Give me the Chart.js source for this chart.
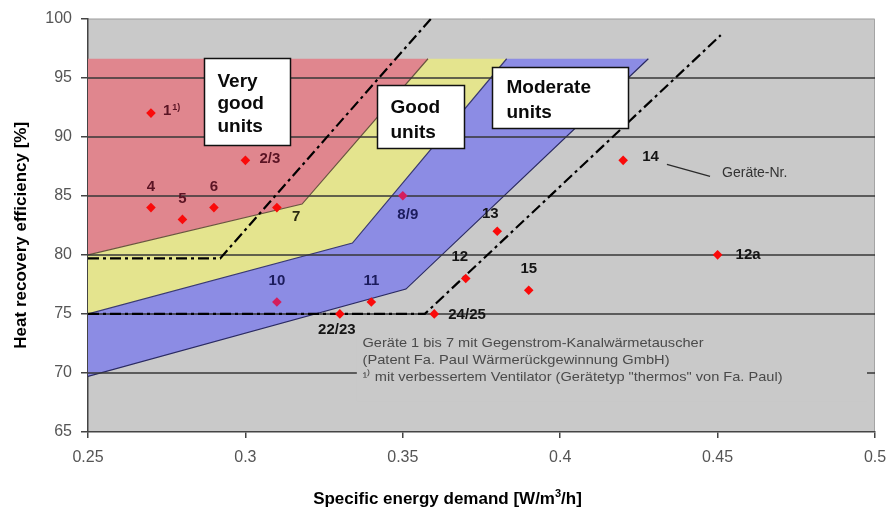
<!DOCTYPE html>
<html>
<head>
<meta charset="utf-8">
<script src="https://cdn.jsdelivr.net/npm/chart.js@4.4.1/dist/chart.umd.min.js"></script>
<style>
  html, body { margin: 0; padding: 0; background: #fff; }
  #wrap { width: 887px; height: 510px; }
</style>
</head>
<body>
<div id="wrap"><canvas id="chart" width="887" height="510"></canvas></div>
<script>
// --- Data ---
const xMin = 0.25, xMax = 0.5, xStep = 0.05;
const yMin = 65, yMax = 100, yStep = 5;

const unitNames      = ["1", "4", "5", "6", "2/3", "7", "8/9", "10", "11", "22/23", "12", "13", "24/25", "15", "14", "12a"];
const unitDemand     = [0.27, 0.27, 0.28, 0.29, 0.30, 0.31, 0.35, 0.31, 0.34, 0.33, 0.37, 0.38, 0.36, 0.39, 0.42, 0.45];
const unitEfficiency = [92, 84, 83, 84, 88, 84, 85, 76, 76, 75, 78, 82, 75, 77, 88, 80];

// zones [demand, efficiency]
const veryGoodZone = [[0.25, 96.6], [0.358, 96.6], [0.318, 84.3], [0.25, 80]];
const goodZone     = [[0.25, 80], [0.318, 84.3], [0.358, 96.6], [0.383, 96.6], [0.334, 81], [0.25, 75]];
const moderateZone = [[0.25, 75], [0.334, 81], [0.383, 96.6], [0.428, 96.6], [0.351, 77.1], [0.25, 69.7]];

const veryGoodEdge = [[0.25, 80], [0.318, 84.3], [0.358, 96.6]];
const goodEdge     = [[0.25, 75], [0.334, 81], [0.383, 96.6]];
const moderateEdge = [[0.25, 69.7], [0.351, 77.1], [0.428, 96.6]];

const limitLineA = [[0.25, 79.7], [0.292, 79.7], [0.359, 100]];
const limitLineB = [[0.25, 75], [0.357, 75], [0.451, 98.6]];

const footnoteLines = [
  "Geräte 1 bis 7 mit Gegenstrom-Kanalwärmetauscher",
  "(Patent Fa. Paul Wärmerückgewinnung GmbH)",
  "¹⁾ mit verbessertem Ventilator (Gerätetyp \"thermos\" von Fa. Paul)"
];

// --- Styles ---
const FONT = "'Liberation Sans', Arial, sans-serif";
const plotGray = "#c9c9c9";
const gridColor = "#363636";
const pts = (arr, close) => {
  const p = arr.map(([x, y]) => ({ x, y }));
  if (close) p.push({ ...p[0] });
  return p;
};

const labelPlace = {
  "1":     { dx: 12, dy: -2, align: "left",   color: "#5a1424" },
  "4":     { dx: 0, dy: -21, align: "center", color: "#5a1424" },
  "5":     { dx: 0, dy: -21, align: "center", color: "#5a1424" },
  "6":     { dx: 0, dy: -21, align: "center", color: "#5a1424" },
  "2/3":   { dx: 14, dy: -1, align: "left",   color: "#5a1424" },
  "7":     { dx: 15, dy: 9, align: "left",    color: "#2a2a10" },
  "8/9":   { dx: 5, dy: 19, align: "center",  color: "#1c1c5c" },
  "10":    { dx: 0, dy: -21, align: "center", color: "#1c1c5c" },
  "11":    { dx: 0, dy: -21, align: "center", color: "#1c1c5c" },
  "22/23": { dx: -3, dy: 16, align: "center", color: "#141414" },
  "12":    { dx: -6, dy: -22, align: "center", color: "#141414" },
  "13":    { dx: -7, dy: -17, align: "center", color: "#141414" },
  "24/25": { dx: 14, dy: 1, align: "left",    color: "#141414" },
  "15":    { dx: 0, dy: -21, align: "center", color: "#141414" },
  "14":    { dx: 19, dy: -3, align: "left",   color: "#141414" },
  "12a":   { dx: 18, dy: 0, align: "left",    color: "#141414" }
};
const pointColors = unitNames.map(n => (n === "8/9" || n === "10") ? "#d41e5c" : "#fa0a0a");

const boxes = [
  { lines: ["Very", "good", "units"], x: 0.2868, y: 96.7, w: 86, h: 87, padX: 13, base: 28, lineH: 22.5 },
  { lines: ["Good", "units"], x: 0.3418, y: 94.34, w: 87, h: 63, padX: 13, base: 27, lineH: 25 },
  { lines: ["Moderate", "units"], x: 0.3783, y: 95.86, w: 136, h: 61, padX: 14, base: 25, lineH: 25 }
];

// --- Plugins ---
const backdrop = {
  id: "backdrop",
  beforeDraw(chart) {
    const { ctx, chartArea: a } = chart;
    ctx.save();
    ctx.fillStyle = plotGray;
    ctx.fillRect(a.left, a.top, a.width, a.height);
    ctx.strokeStyle = "#a4a4a4";
    ctx.lineWidth = 1;
    ctx.beginPath();
    ctx.moveTo(a.left, a.top + 0.5);
    ctx.lineTo(a.right - 0.5, a.top + 0.5);
    ctx.lineTo(a.right - 0.5, a.bottom);
    ctx.stroke();
    ctx.restore();
  },
  beforeDatasetsDraw(chart) { chart.$gridDone = false; },
  beforeDatasetDraw(chart, args) {
    if (chart.$gridDone || args.meta.order > 3) return;
    chart.$gridDone = true;
    const { ctx, chartArea: a, scales: { x, y } } = chart;
    ctx.save();
    ctx.strokeStyle = gridColor;
    ctx.lineWidth = 1.6;
    y.ticks.forEach(t => {
      if (t.value === yMin || t.value === yMax) return;
      const py = Math.round(y.getPixelForValue(t.value));
      ctx.beginPath();
      ctx.moveTo(a.left, py);
      ctx.lineTo(a.right, py);
      ctx.stroke();
    });
    // backing of the footnote
    ctx.fillStyle = plotGray;
    const fx = x.getPixelForValue(0.3354);
    ctx.fillRect(fx, y.getPixelForValue(73.2), a.right - 8 - fx, y.getPixelForValue(67.6) - y.getPixelForValue(73.2));
    ctx.restore();
  },
  afterDatasetsDraw(chart) {
    const { ctx, scales: { x, y } } = chart;
    const meta = chart.getDatasetMeta(chart.data.datasets.length - 1);
    ctx.save();
    ctx.textBaseline = "middle";
    ctx.font = `bold 15px ${FONT}`;
    meta.data.forEach((el, i) => {
      const name = unitNames[i];
      const p = labelPlace[name];
      ctx.fillStyle = p.color;
      ctx.textAlign = p.align;
      ctx.fillText(name, el.x + p.dx, el.y + p.dy);
      if (name === "1") {
        const w = ctx.measureText("1").width;
        ctx.font = `bold 9px ${FONT}`;
        ctx.textAlign = "left";
        ctx.fillText("1)", el.x + p.dx + w + 1, el.y + p.dy - 4);
        ctx.font = `bold 15px ${FONT}`;
      }
    });

    // annotation "Geräte-Nr."
    ctx.strokeStyle = "#2a2a2a";
    ctx.lineWidth = 1.3;
    ctx.beginPath();
    ctx.moveTo(x.getPixelForValue(0.4339), y.getPixelForValue(87.66));
    ctx.lineTo(x.getPixelForValue(0.4476), y.getPixelForValue(86.64));
    ctx.stroke();
    ctx.font = `14px ${FONT}`;
    ctx.fillStyle = "#333";
    ctx.textAlign = "left";
    ctx.textBaseline = "alphabetic";
    ctx.fillText("Geräte-Nr.", x.getPixelForValue(0.4476) + 12, y.getPixelForValue(86.64) + 1);

    // text boxes
    boxes.forEach(b => {
      const bx = Math.round(x.getPixelForValue(b.x)) + 0.5;
      const by = Math.round(y.getPixelForValue(b.y)) + 0.5;
      ctx.fillStyle = "#fff";
      ctx.fillRect(bx, by, b.w, b.h);
      ctx.strokeStyle = "#111";
      ctx.lineWidth = 1.5;
      ctx.strokeRect(bx, by, b.w, b.h);
      ctx.fillStyle = "#0a0a0a";
      ctx.font = `bold 19px ${FONT}`;
      b.lines.forEach((t, k) => ctx.fillText(t, bx + b.padX, by + b.base + k * b.lineH));
    });

    // footnote
    ctx.fillStyle = "#4a4a4a";
    ctx.font = `13px ${FONT}`;
    const fx = x.getPixelForValue(0.3372);
    const targets = [341, 307, 420];
    footnoteLines.forEach((t, k) => {
      const w = ctx.measureText(t).width;
      const fy = y.getPixelForValue(72.2) + k * 17;
      ctx.save();
      ctx.translate(fx, fy);
      ctx.scale(targets[k] / w, 1);
      ctx.fillText(t, 0, 0);
      ctx.restore();
    });
    ctx.restore();
  },
  afterDraw(chart) {
    const { ctx, chartArea: a } = chart;
    ctx.save();
    ctx.fillStyle = "#000";
    ctx.textBaseline = "alphabetic";
    // x title with superscript
    const big = `bold 17px ${FONT}`, small = `bold 11px ${FONT}`;
    const parts = [["Specific energy demand [W/m", big, 0], ["3", small, -7], ["/h]", big, 0]];
    let total = 0;
    parts.forEach(([t, f]) => { ctx.font = f; total += ctx.measureText(t).width; });
    let cx = chart.width / 2 + 4 - total / 2;
    parts.forEach(([t, f, dy]) => {
      ctx.font = f;
      ctx.textAlign = "left";
      ctx.fillText(t, cx, 504 + dy);
      cx += ctx.measureText(t).width;
    });
    // y title
    ctx.translate(21, (a.top + a.bottom) / 2 + 10);
    ctx.rotate(-Math.PI / 2);
    ctx.font = big;
    ctx.textAlign = "center";
    ctx.textBaseline = "middle";
    ctx.fillText("Heat recovery efficiency [%]", 0, 0);
    ctx.restore();
  }
};

const zoneSet = (data, color, order) => ({
  data: pts(data, true), showLine: true, fill: "shape", backgroundColor: color,
  borderColor: "rgba(0,0,0,0)", borderWidth: 0, pointRadius: 0, tension: 0, order
});
const edgeSet = (data, color) => ({
  data: pts(data), showLine: true, fill: false, borderColor: color, borderWidth: 1.2,
  pointRadius: 0, tension: 0, order: 4
});
const limitSet = (data) => ({
  data: pts(data), showLine: true, fill: false, borderColor: "#000", borderWidth: 2.2,
  borderDash: [11, 4, 3, 4], pointRadius: 0, tension: 0, order: 2
});

new Chart(document.getElementById("chart"), {
  type: "scatter",
  data: {
    datasets: [
      zoneSet(moderateZone, "#8c8ce4", 5),
      zoneSet(goodZone, "#e4e48e", 5),
      zoneSet(veryGoodZone, "#e0868e", 5),
      edgeSet(veryGoodEdge, "#6a5440"),
      edgeSet(goodEdge, "#3a3a72"),
      edgeSet(moderateEdge, "#2a2a62"),
      limitSet(limitLineA),
      limitSet(limitLineB),
      {
        data: unitDemand.map((d, i) => ({ x: d, y: unitEfficiency[i] })),
        pointStyle: "rectRot", pointRadius: 4.8, pointBorderWidth: 0,
        backgroundColor: pointColors, borderColor: pointColors, order: 1
      }
    ]
  },
  options: {
    responsive: false,
    animation: false,
    events: [],
    layout: { padding: { top: 18, right: 0, left: 0, bottom: 0 } },
    plugins: { legend: { display: false }, tooltip: { enabled: false } },
    scales: {
      x: {
        type: "linear", min: xMin, max: xMax,
        ticks: {
          stepSize: xStep, color: "#555", font: { size: 16, family: FONT }, padding: 10,
          callback: v => String(+v.toFixed(2))
        },
        grid: { drawOnChartArea: false, drawTicks: true, tickLength: 6, color: "#444", lineWidth: 1.5 },
        border: { color: "#444", width: 1.5 },
        afterFit(s) { s.height = 78; s.paddingRight = 12; s.paddingLeft = 0; }
      },
      y: {
        type: "linear", min: yMin, max: yMax,
        ticks: { stepSize: yStep, color: "#555", font: { size: 16, family: FONT }, padding: 9 },
        grid: { drawOnChartArea: false, drawTicks: true, tickLength: 7, color: "#444", lineWidth: 1.5 },
        border: { color: "#444", width: 1.5 },
        afterFit(s) { s.width = 88; }
      }
    }
  },
  plugins: [backdrop]
});
</script>
</body>
</html>
